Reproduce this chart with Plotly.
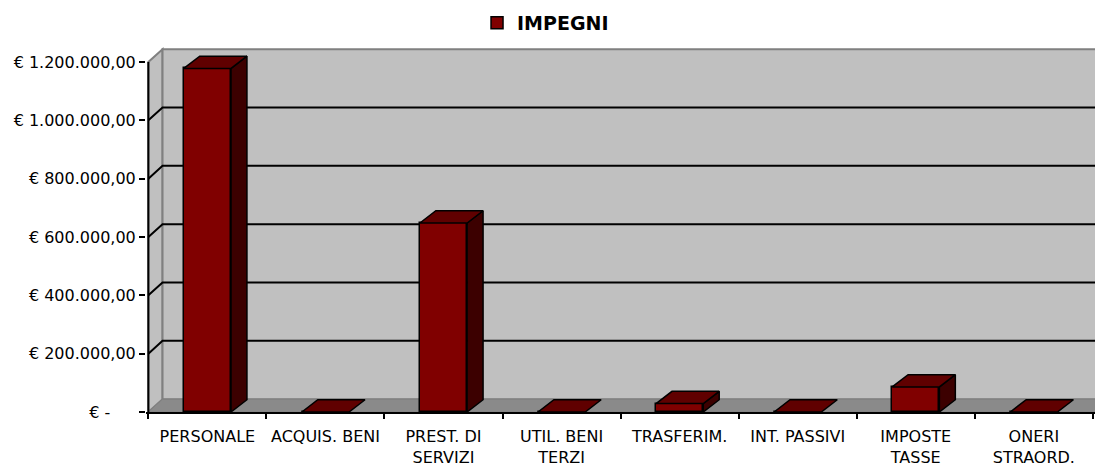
import plotly.graph_objects as go

# Spending commitments by expense category
categories = ["PERSONALE", "ACQUIS. BENI", "PREST. DI<br>SERVIZI", "UTIL. BENI<br>TERZI",
              "TRASFERIM.", "INT. PASSIVI", "IMPOSTE<br>TASSE", "ONERI<br>STRAORD."]
impegni = [1178000, 0, 648000, 0, 29000, 0, 86000, 0]

y_ticks = [0, 200000, 400000, 600000, 800000, 1000000, 1200000]
y_ticktext = ["€ -\u00a0\u00a0\u00a0\u00a0\u00a0", "€ 200.000,00", "€ 400.000,00", "€ 600.000,00",
              "€ 800.000,00", "€ 1.000.000,00", "€ 1.200.000,00"]

FONT = "DejaVu Sans"
BAR_FRONT = "#800000"
BAR_TOP = "#600000"
BAR_SIDE = "#3c0000"
WALL = "#c0c0c0"
FLOOR = "#8a8a8a"
EDGE = "#808080"

n = len(categories)
centers = [i + 0.5 for i in range(n)]
bar_w = 0.40
y_max_tick = max(y_ticks)

# pseudo-3D depth offsets in data units
wall_dx, wall_dy = 0.12, 44000
bar_dx, bar_dy = 0.135, 42000

x_min, x_max = -0.02, 8.018
y_top = 1261700

fig = go.Figure()

# front faces of the columns
fig.add_trace(go.Bar(
    x=centers, y=impegni, width=bar_w, name="IMPEGNI",
    marker=dict(color=BAR_FRONT, line=dict(color="black", width=1.5)),
    showlegend=True,
))

# top and side faces, built from the same values
top_x, top_y, side_x, side_y = [], [], [], []
for c, v in zip(centers, impegni):
    xl, xr = c - bar_w / 2, c + bar_w / 2
    top_x += [xl, xr, xr + bar_dx, xl + bar_dx, xl, None]
    top_y += [v, v, v + bar_dy, v + bar_dy, v, None]
    if v > 0:
        side_x += [xr, xr + bar_dx, xr + bar_dx, xr, xr, None]
        side_y += [0, bar_dy, v + bar_dy, v, 0, None]

fig.add_trace(go.Scatter(x=side_x, y=side_y, mode="lines", fill="toself",
                         fillcolor=BAR_SIDE, line=dict(color="black", width=1.5),
                         hoverinfo="skip", showlegend=False))
fig.add_trace(go.Scatter(x=top_x, y=top_y, mode="lines", fill="toself",
                         fillcolor=BAR_TOP, line=dict(color="black", width=1.5),
                         hoverinfo="skip", showlegend=False))

shapes = []
# side wall
shapes.append(dict(type="path", xref="x", yref="y", layer="below",
                   path=f"M0,0 L0,{y_max_tick} L{wall_dx},{y_max_tick + wall_dy} L{wall_dx},{wall_dy} Z",
                   fillcolor=WALL, line=dict(color=EDGE, width=2)))
# back wall
shapes.append(dict(type="rect", xref="x", yref="y", layer="below",
                   x0=wall_dx, x1=x_max + 1, y0=wall_dy, y1=y_max_tick + wall_dy,
                   fillcolor=WALL, line=dict(color=EDGE, width=2)))
# floor
shapes.append(dict(type="path", xref="x", yref="y", layer="below",
                   path=f"M0,0 L{wall_dx},{wall_dy} L{x_max + 1},{wall_dy} L{x_max + 1},0 Z",
                   fillcolor=FLOOR, line=dict(color=EDGE, width=1)))
# gridlines across side wall and back wall
for t in y_ticks[1:-1]:
    shapes.append(dict(type="path", xref="x", yref="y", layer="below",
                       path=f"M0,{t} L{wall_dx},{t + wall_dy} L{x_max + 1},{t + wall_dy}",
                       line=dict(color="black", width=2)))
# value axis line
shapes.append(dict(type="line", xref="x", yref="y", layer="above",
                   x0=0, x1=0, y0=0, y1=y_max_tick, line=dict(color="black", width=2)))

fig.update_layout(
    width=1095, height=468,
    margin=dict(l=146, r=0, t=44, b=56),
    paper_bgcolor="white", plot_bgcolor="white",
    font=dict(family=FONT, size=16, color="black"),
    shapes=shapes,
    bargap=0,
    showlegend=True,
    legend=dict(orientation="h", x=0.421, xanchor="center", y=1.057, yanchor="middle",
                font=dict(family=FONT, size=19, weight="bold"),
                bgcolor="rgba(0,0,0,0)", itemclick=False),
    xaxis=dict(range=[x_min, x_max], showgrid=False, zeroline=False,
               showline=True, linecolor="black", linewidth=2,
               tickmode="array", tickvals=centers, ticktext=categories, ticks="",
               ticklabelstandoff=9,
               tickfont=dict(family=FONT, size=16),
               minor=dict(tickmode="array", tickvals=list(range(n + 1)),
                          ticks="outside", ticklen=5, tickwidth=2, tickcolor="black")),
    yaxis=dict(range=[0, y_top], showgrid=False, zeroline=False, showline=False,
               tickmode="array", tickvals=y_ticks, ticktext=y_ticktext,
               ticks="outside", ticklen=6, tickwidth=2, tickcolor="black",
               tickfont=dict(family=FONT, size=16)),
)

fig.write_html("out.html")
